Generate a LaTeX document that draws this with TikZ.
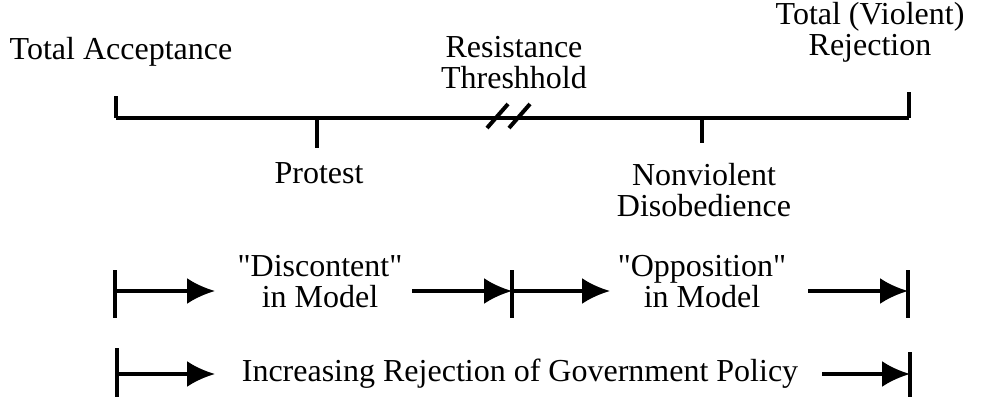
\documentclass[tikz,border=0pt]{standalone}
\usepackage{fontspec}
\setmainfont{Liberation Serif}
% same face without the TeX mapping, so that " stays a straight quote
\newfontfamily\plainq{Liberation Serif}[Ligatures=ResetAll]
\newcommand{\sq}{{\plainq"}}
\usetikzlibrary{arrows.meta}
\begin{document}
\begin{tikzpicture}[x=1pt,y=-1pt,
  lbl/.style={font=\fontsize{32}{31}\selectfont, align=center, inner sep=0pt},
  rule/.style={line width=3.5pt},
  tickmark/.style={line width=4pt},
  flow/.style={line width=3.5pt, -{Latex[length=28pt,width=26pt]}},
]
\useasboundingbox (0,0) rectangle (993,397);

% labels
\node[lbl] (acc) at (121,52) {Total Acceptance};
\node[lbl] (thr) at (514,63) {Resistance\\Threshhold};
\node[lbl] (rej) at (870,32) {Total (Violent)\\Rejection};
\node[lbl] (pro) at (319,173) {Protest};
\node[lbl] (nvd) at (704,190) {Nonviolent\\Disobedience};
\node[lbl] (dis) at (320,282) {\sq Discontent\sq\\in Model};
\node[lbl] (opp) at (702,282) {\sq Opposition\sq\\in Model};
\node[lbl] (inc) at (520,374) {Increasing Rejection of Government Policy};

% scale axis
\coordinate (a0) at (116,118);
\coordinate (a1) at (909,118);
\coordinate (a0top) at (116,96);
\coordinate (a1top) at (909,92);
\coordinate (p0) at (317,118);
\coordinate (p1) at (317,148);
\coordinate (n0) at (702,118);
\coordinate (n1) at (702,143);
\draw[rule] (a0) -- (a1);
\draw[tickmark] (a0) -- (a0top);
\draw[tickmark] (a1) -- (a1top);
\draw[tickmark] (p0) -- (p1);
\draw[tickmark] (n0) -- (n1);
% threshold break marks
\coordinate (s1a) at (487,128); \coordinate (s1b) at (508,104);
\coordinate (s2a) at (509,128); \coordinate (s2b) at (530,104);
\draw[tickmark] (s1a) -- (s1b);
\draw[tickmark] (s2a) -- (s2b);

% model ranges
\coordinate (r1a) at (115,270); \coordinate (r1b) at (115,318);
\coordinate (r2a) at (512,270); \coordinate (r2b) at (512,318);
\coordinate (r3a) at (908,270); \coordinate (r3b) at (908,318);
\draw[tickmark] (r1a) -- (r1b);
\draw[tickmark] (r2a) -- (r2b);
\draw[tickmark] (r3a) -- (r3b);
\coordinate (d0) at (115,291); \coordinate (d1) at (215,291);
\coordinate (d2) at (412,291); \coordinate (d3) at (512,291);
\coordinate (o1) at (610,291);
\coordinate (o2) at (808,291); \coordinate (o3) at (908,291);
\draw[flow] (d0) -- (d1);
\draw[flow] (d2) -- (d3);
\draw[flow] (d3) -- (o1);
\draw[flow] (o2) -- (o3);

% overall range
\coordinate (b1a) at (117,348); \coordinate (b1b) at (117,397);
\coordinate (b2a) at (910,352); \coordinate (b2b) at (910,397);
\draw[tickmark] (b1a) -- (b1b);
\draw[tickmark] (b2a) -- (b2b);
\coordinate (i0) at (117,374); \coordinate (i1) at (215,374);
\coordinate (i2) at (822,374); \coordinate (i3) at (910,374);
\draw[flow] (i0) -- (i1);
\draw[flow] (i2) -- (i3);
\end{tikzpicture}
\end{document}
